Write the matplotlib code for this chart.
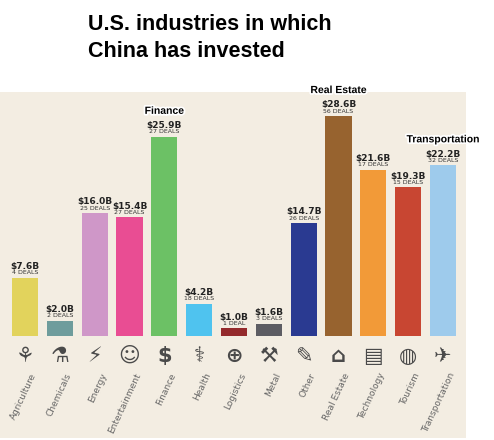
import matplotlib.pyplot as plt
import matplotlib.patheffects as pe

industries = ['Agriculture', 'Chemicals', 'Energy', 'Entertainment', 'Finance', 'Health',
              'Logistics', 'Metal', 'Other', 'Real Estate', 'Technology', 'Tourism', 'Transportation']
values = [7.6, 2.0, 16.0, 15.4, 25.9, 4.2, 1.0, 1.6, 14.7, 28.6, 21.6, 19.3, 22.2]
deals = [4, 2, 25, 27, 27, 18, 1, 3, 26, 56, 17, 15, 32]
colors = ['#e2d35c', '#6e9c9c', '#cf97c8', '#e94d93', '#6cc165', '#4fc3ef', '#942a2c',
          '#5d5d63', '#2a3a91', '#97632f', '#f29a38', '#c84632', '#9ecbec']
icons = ['\u2698', '\u2697', '\u26a1', '\u263a', '$', '\u2695', '\u2295', '\u2692',
         '\u270e', '\u2302', '\u25a4', '\u25cd', '\u2708']
callouts = {'Finance': 4, 'Real Estate': 9, 'Transportation': 12}

fig = plt.figure(figsize=(4.94, 4.4), dpi=100)
bg = fig.add_axes([0, 2/440, 466/494, 346/440])
bg.set_facecolor('#f3ede2')
bg.set_xticks([])
bg.set_yticks([])
for s in bg.spines.values():
    s.set_visible(False)

fig.text(88/494, 1 - 38/440, 'U.S. industries in which\nChina has invested', fontsize=15.5,
         fontweight='bold', va='center', ha='left', linespacing=1.35,
         family=['Liberation Sans', 'DejaVu Sans'])

ax = fig.add_axes([7.6/494, 104/440, 452.8/494, 244/440])
ax.patch.set_alpha(0)
x = list(range(len(values)))
ax.bar(x, values, width=0.75, color=colors)
ax.set_xlim(-0.5, 12.5)
ax.set_ylim(0, 31.7)
ax.axis('off')

for i, (v, d) in enumerate(zip(values, deals)):
    ax.text(i, v + 0.85, f'${v:.1f}B', ha='center', va='bottom', fontsize=6.5,
            fontweight='bold', color='#222222')
    ax.text(i, v + 0.3, f'{d} DEAL' + ('S' if d != 1 else ''), ha='center', va='bottom',
            fontsize=4.5, color='#333333')
    ax.text(i, -2.6, icons[i], ha='center', va='center', fontsize=15, color='#4a4a4a',
            fontweight='bold', clip_on=False)
    ax.text(i + 0.15, -4.6, industries[i], ha='right', va='top', rotation=65,
            fontsize=6.5, color='#666666', rotation_mode='anchor', clip_on=False)

for name, i in callouts.items():
    ax.text(i, values[i] + 2.7, name, ha='center', va='bottom', fontsize=7.5,
            fontweight='bold', color='black', clip_on=False,
            family=['Liberation Sans', 'DejaVu Sans'],
            path_effects=[pe.withStroke(linewidth=2.5, foreground='white')])

fig.savefig('out.png', dpi=100)
